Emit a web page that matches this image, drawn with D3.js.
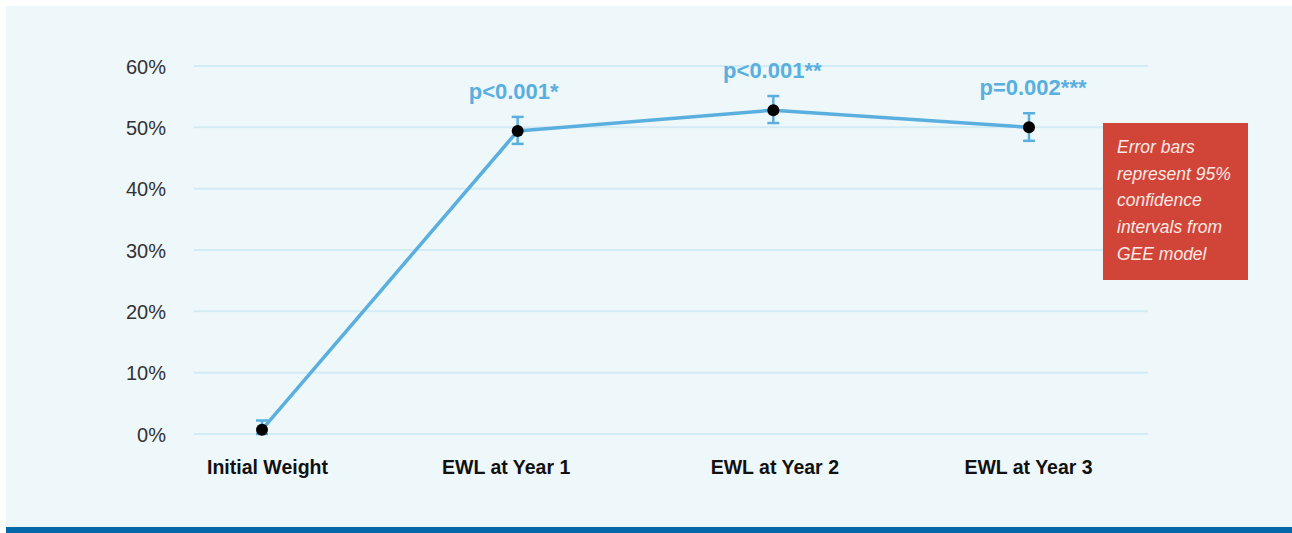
<!DOCTYPE html>
<html>
<head>
<meta charset="utf-8">
<script src="https://cdn.jsdelivr.net/npm/d3@7"></script>
<style>
  html, body { margin: 0; padding: 0; background: #ffffff; }
  svg { display: block; }
</style>
</head>
<body>
<svg id="chart" width="1292" height="533"></svg>
<script>
// Excess weight loss over time, mean with 95% CI
const categories = ["Initial Weight", "EWL at Year 1", "EWL at Year 2", "EWL at Year 3"];
const meanValues = [0.7, 49.4, 52.8, 50.0];
const ciLower = [0.0, 47.3, 50.7, 47.8];
const ciUpper = [2.2, 51.7, 55.1, 52.3];
const pLabels = ["", "p<0.001*", "p<0.001**", "p=0.002***"];
const yTicks = [0, 10, 20, 30, 40, 50, 60];
const noteLines = ["Error bars", "represent 95%", "confidence", "intervals from", "GEE model"];

const svg = d3.select("#chart");
const W = 1292, H = 533;
const font = "'Liberation Sans', Arial, sans-serif";

// panel background and bottom rule
svg.append("rect").attr("x", 6).attr("y", 6).attr("width", W - 6).attr("height", 521).attr("fill", "#eef7fa");
svg.append("rect").attr("x", 6).attr("y", 527).attr("width", W - 6).attr("height", 6).attr("fill", "#0468a8");

const y = d3.scaleLinear().domain([0, 60]).range([434, 66]);
const x = d3.scalePoint().domain(categories).range([262, 1029]);

const lineColor = "#5aafdf";

// gridlines
svg.append("g").selectAll("line").data(yTicks).join("line")
  .attr("x1", 194).attr("x2", 1148)
  .attr("y1", d => y(d)).attr("y2", d => y(d))
  .attr("stroke", "#d2ebf4").attr("stroke-width", 2);

// y axis labels
const yAxis = d3.axisLeft(y).tickValues(yTicks).tickFormat(d => d + "%").tickSize(0).tickPadding(0);
const yg = svg.append("g").attr("transform", "translate(166,0)").call(yAxis);
yg.select(".domain").remove();
yg.selectAll("text")
  .attr("font-family", font)
  .attr("font-size", 20).attr("fill", "#333").attr("dy", "0.36em");

// x axis labels (slightly nudged for the layout of the category captions)
const labelShift = [5, -12, 1, -1];
const xAxis = d3.axisBottom(x).tickSize(0).tickPadding(0);
const xg = svg.append("g").attr("transform", "translate(0,460)").call(xAxis);
xg.select(".domain").remove();
xg.selectAll(".tick text")
  .attr("font-family", font)
  .attr("font-size", 19.5).attr("font-weight", "bold").attr("fill", "#111").attr("dy", "0.71em")
  .attr("dx", (d, i) => labelShift[i]);

// connecting line
const line = d3.line().x((d, i) => x(categories[i])).y(d => y(d));
svg.append("path").datum(meanValues)
  .attr("d", line).attr("fill", "none")
  .attr("stroke", lineColor).attr("stroke-width", 3.5).attr("stroke-linejoin", "round");

// error bars
const eb = svg.append("g").attr("stroke", lineColor).attr("stroke-width", 2.5);
categories.forEach((c, i) => {
  const cx = x(c);
  eb.append("line").attr("x1", cx).attr("x2", cx).attr("y1", y(ciLower[i])).attr("y2", y(ciUpper[i]));
  eb.append("line").attr("x1", cx - 6).attr("x2", cx + 6).attr("y1", y(ciLower[i])).attr("y2", y(ciLower[i]));
  eb.append("line").attr("x1", cx - 6).attr("x2", cx + 6).attr("y1", y(ciUpper[i])).attr("y2", y(ciUpper[i]));
});

// points
svg.append("g").selectAll("circle").data(meanValues).join("circle")
  .attr("cx", (d, i) => x(categories[i])).attr("cy", d => y(d))
  .attr("r", 6).attr("fill", "#000");

// significance labels
const pShift = [0, -4, -1, 4];
svg.append("g").selectAll("text").data(pLabels).join("text")
  .attr("x", (d, i) => x(categories[i]) + pShift[i])
  .attr("y", (d, i) => y(ciUpper[i]) - 18)
  .attr("text-anchor", "middle")
  .attr("font-family", font)
  .attr("font-size", 22).attr("font-weight", "bold").attr("fill", lineColor)
  .text(d => d);

// note box
const note = svg.append("g");
note.append("rect").attr("x", 1103).attr("y", 123).attr("width", 145).attr("height", 157).attr("fill", "#d04537");
note.append("g").selectAll("text").data(noteLines).join("text")
  .attr("x", 1117).attr("y", (d, i) => 153 + i * 26.7)
  .attr("font-family", font)
  .attr("font-size", 17.5).attr("font-style", "italic").attr("fill", "#fbe9e6")
  .text(d => d);
</script>
</body>
</html>
